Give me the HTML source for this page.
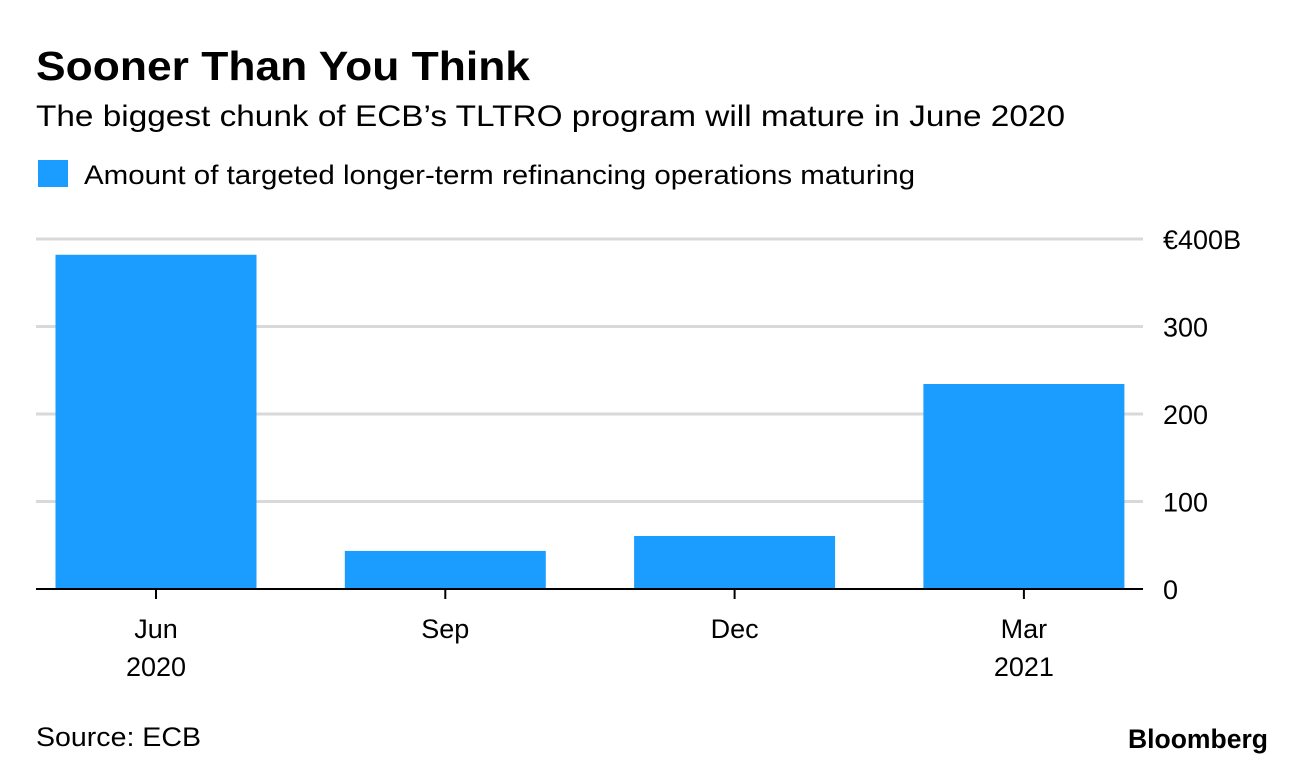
<!DOCTYPE html>
<html><head><meta charset="utf-8"><style>
body{margin:0;background:#fff;width:1296px;height:768px;overflow:hidden;font-family:"Liberation Sans",sans-serif;}
</style></head><body>
<svg width="1296" height="768" id="svg">
<text x="36" y="80" font-size="41" font-weight="bold" fill="#000" textLength="494" lengthAdjust="spacingAndGlyphs">Sooner Than You Think</text>
<text x="36" y="126" font-size="30" fill="#000" textLength="1029" lengthAdjust="spacingAndGlyphs">The biggest chunk of ECB’s TLTRO program will mature in June 2020</text>
<rect x="38" y="160" width="30" height="27" fill="#1a9dff"/>
<text x="84" y="184" font-size="27" fill="#000" textLength="831" lengthAdjust="spacingAndGlyphs">Amount of targeted longer-term refinancing operations maturing</text>
<g id="grid"></g><g id="bars"></g><g id="xaxis"></g>
<text x="36" y="746" font-size="27" fill="#000" textLength="165" lengthAdjust="spacingAndGlyphs">Source: ECB</text>
<text x="1268" y="748" font-size="27" font-weight="bold" text-anchor="end" fill="#000" textLength="140" lengthAdjust="spacingAndGlyphs">Bloomberg</text>
</svg>
<script>
const categories=["Jun","Sep","Dec","Mar"];
const years=["2020","","","2021"];
const values=[382,43.5,60.6,234.3];
const ticks=[0,100,200,300,400];
const tickLabels=["0","100","200","300","€400B"];
const NS="http://www.w3.org/2000/svg";
const y=v=>589-v*350/400;
const xc=i=>156+289.3*i;
function mk(t,a,p){const e=document.createElementNS(NS,t);for(const k in a)e.setAttribute(k,a[k]);p.appendChild(e);return e;}
const grid=document.getElementById('grid'),bars=document.getElementById('bars'),xa=document.getElementById('xaxis');
ticks.forEach((t,i)=>{
 if(t>0){const l=mk('line',{x1:36,x2:1143,y1:y(t),y2:y(t),stroke:'#d9d9d9','stroke-width':3},grid);
 
 }
 const tx=mk('text',{x:1163,y:y(t)+10,'font-size':27,fill:'#000'},grid);tx.textContent=tickLabels[i];
 
 
});
values.forEach((v,i)=>{
 const r=mk('rect',{x:xc(i)-100.5,y:y(v),width:201,height:589-y(v),fill:'#1a9dff'},bars);
 
 
});
const base=mk('line',{x1:36,x2:1143,y1:589,y2:589,stroke:'#000','stroke-width':2},xa);


categories.forEach((c,i)=>{
 const tk=mk('line',{x1:xc(i),x2:xc(i),y1:589,y2:599,stroke:'#000','stroke-width':2},xa);
 
 
 const t=mk('text',{x:xc(i),y:638,'font-size':27,'text-anchor':'middle',fill:'#000'},xa);t.textContent=c;
 
 
 if(years[i]){const t2=mk('text',{x:xc(i),y:676,'font-size':27,'text-anchor':'middle',fill:'#000'},xa);t2.textContent=years[i];
 
 }
});
</script>
</body></html>
